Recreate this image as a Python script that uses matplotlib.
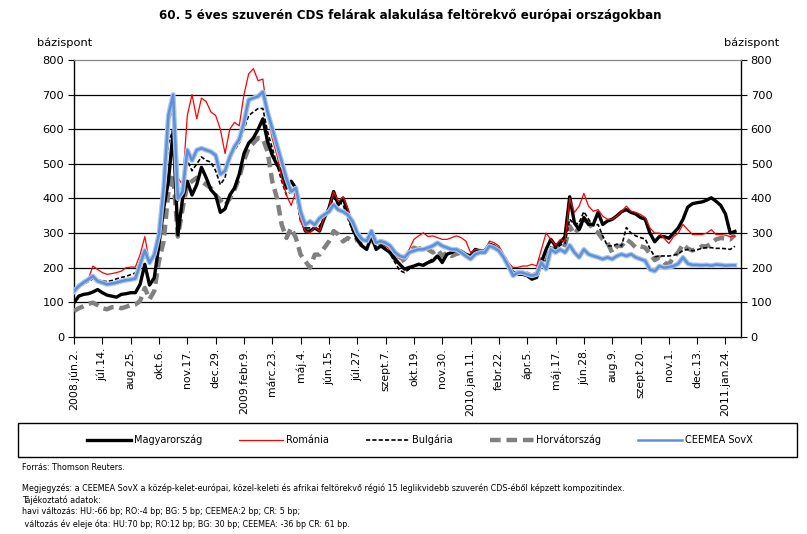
import matplotlib
matplotlib.use("Agg")
import matplotlib.pyplot as plt
from matplotlib.patches import Rectangle
import pandas as pd

plt.rcParams['font.family'] = ['DejaVu Sans']

# weekly readings, 2008.jún.2. -> 2011.febr.
start = "2008-06-02"
dates = pd.date_range(start, periods=141, freq="7D")

hu = [99, 118, 123, 125, 130, 137, 128, 121, 118, 115, 123, 125, 128, 128, 152, 210, 150, 171, 267, 372,
      450, 595, 295, 400, 450, 410, 440, 490, 460, 425, 410, 360, 370, 410, 430, 470, 530, 560, 575, 600,
      630, 565, 525, 497, 478, 430, 450, 430, 353, 306, 306, 315, 306, 343, 372, 420, 382, 401, 362, 315,
      282, 263, 253, 292, 253, 263, 253, 244, 225, 210, 196, 201, 205, 210, 207, 215, 220, 234, 215, 239,
      244, 253, 248, 239, 234, 253, 248, 248, 268, 263, 253, 230, 205, 186, 181, 181, 177, 167, 172, 215,
      253, 282, 263, 272, 290, 405, 330, 310, 345, 325, 325, 360, 325, 335, 340, 350, 362, 368, 360, 355,
      345, 340, 300, 275, 290, 290, 285, 300, 315, 340, 375, 385, 388, 390, 395, 402, 392, 380, 355, 300, 305]

ro = [132, 152, 154, 166, 205, 195, 186, 181, 183, 186, 190, 200, 202, 202, 238, 290, 214, 238, 315, 469,
      620, 660, 460, 440, 640, 700, 630, 690, 680, 650, 640, 600, 530, 600, 620, 610, 700, 760, 775, 740,
      745, 641, 573, 525, 458, 410, 380, 420, 334, 306, 301, 318, 306, 345, 372, 420, 391, 405, 372, 318,
      296, 277, 282, 301, 272, 272, 263, 253, 239, 225, 234, 253, 282, 292, 301, 290, 292, 287, 282, 282,
      287, 292, 287, 277, 244, 253, 253, 244, 277, 272, 263, 239, 215, 201, 201, 205, 205, 210, 205, 253,
      300, 282, 265, 282, 275, 400, 360, 378, 415, 378, 363, 368, 349, 340, 340, 349, 363, 378, 363, 360,
      354, 345, 315, 300, 300, 285, 270, 290, 300, 325, 310, 296, 296, 296, 300, 310, 296, 296, 294, 290, 292]

bg = [137, 145, 152, 160, 168, 165, 162, 160, 163, 168, 172, 175, 180, 185, 205, 235, 215, 235, 300, 420,
      560, 600, 390, 440, 510, 480, 500, 520, 510, 505, 480, 440, 460, 530, 540, 560, 600, 640, 650, 660,
      660, 593, 545, 497, 450, 410, 420, 410, 334, 315, 315, 315, 320, 343, 372, 400, 391, 382, 343, 306,
      285, 265, 255, 290, 255, 262, 255, 240, 215, 192, 186, 196, 205, 212, 210, 218, 225, 236, 220, 240,
      245, 250, 245, 238, 232, 250, 246, 246, 265, 260, 250, 228, 205, 185, 183, 183, 180, 172, 178, 220,
      220, 260, 255, 265, 270, 340, 325, 330, 362, 340, 321, 325, 292, 263, 263, 268, 263, 316, 300, 292,
      287, 283, 255, 232, 234, 234, 234, 236, 240, 250, 253, 249, 252, 256, 258, 258, 256, 256, 255, 253, 262]

hr = [75, 83, 89, 96, 99, 92, 83, 80, 86, 87, 83, 87, 92, 94, 104, 142, 109, 133, 219, 277,
      420, 470, 290, 370, 440, 450, 460, 450, 440, 430, 410, 395, 380, 400, 425, 460, 510, 545, 560, 575,
      573, 535, 449, 401, 324, 286, 315, 286, 238, 219, 200, 238, 238, 257, 276, 306, 296, 276, 286, 276,
      282, 263, 272, 282, 263, 272, 263, 244, 225, 215, 225, 244, 258, 253, 263, 253, 244, 253, 234, 244,
      234, 240, 244, 236, 228, 248, 245, 245, 262, 258, 250, 232, 205, 183, 186, 186, 183, 177, 183, 225,
      215, 260, 250, 270, 265, 320, 297, 316, 340, 330, 311, 301, 282, 272, 244, 263, 263, 282, 272, 258,
      262, 258, 240, 222, 230, 215, 210, 230, 245, 268, 255, 250, 255, 262, 262, 270, 282, 286, 284, 282, 295]

ceemea = [132, 147, 157, 166, 176, 161, 157, 152, 154, 157, 161, 164, 166, 169, 210, 250, 214, 238, 296, 431,
          640, 700, 400, 420, 540, 510, 540, 545, 540, 535, 525, 470, 480, 520, 550, 570, 620, 685, 690, 695,
          708, 650, 602, 554, 506, 458, 420, 430, 362, 324, 334, 324, 343, 353, 362, 382, 367, 362, 353, 334,
          301, 282, 277, 306, 272, 277, 272, 263, 244, 234, 230, 244, 249, 253, 253, 258, 263, 272, 263, 258,
          253, 253, 244, 234, 225, 239, 244, 244, 263, 258, 249, 230, 205, 177, 186, 186, 181, 177, 181, 215,
          196, 253, 244, 253, 244, 265, 244, 230, 253, 239, 234, 230, 225, 230, 225, 234, 239, 234, 239, 230,
          225, 220, 195, 190, 205, 200, 202, 205, 212, 230, 212, 208, 208, 207, 208, 206, 209, 208, 206, 207, 207]

tick_dates = pd.date_range(start, periods=24, freq="42D")
tick_labels = ["2008.jún.2.", "júl.14.", "aug.25.", "okt.6.", "nov.17.", "dec.29.",
               "2009.febr.9.", "márc.23.", "máj.4.", "jún.15.", "júl.27.", "szept.7.",
               "okt.19.", "nov.30.", "2010.jan.11.", "febr.22.", "ápr.5.", "máj.17.",
               "jún.28.", "aug.9.", "szept.20.", "nov.1.", "dec.13.", "2011.jan.24."]

W, H = 807, 534
fig = plt.figure(figsize=(W / 100, H / 100), dpi=100)
ax = fig.add_axes([74 / W, 1 - 337 / H, (741 - 74) / W, (337 - 60) / H])

l_hr, = ax.plot(dates, hr, color="#808080", lw=3.2, dashes=(2.4, 1.3), zorder=3)
l_bg, = ax.plot(dates, bg, color="black", lw=1.2, dashes=(2.5, 1.3), zorder=4)
l_hu, = ax.plot(dates, hu, color="black", lw=2.4, zorder=5)
l_ro, = ax.plot(dates, ro, color="#ff0000", lw=0.9, zorder=6)
ax.plot(dates, ceemea, color="#a9c6ee", lw=3.6, zorder=7, solid_joinstyle="round")
l_ce, = ax.plot(dates, ceemea, color="#5f8fd4", lw=1.8, zorder=8)

ax.set_ylim(0, 800)
ax.set_xlim(pd.Timestamp(start), pd.Timestamp(start) + pd.Timedelta(days=989))
ax.set_yticks(range(0, 801, 100))
ax.set_xticks(tick_dates)
ax.set_xticklabels(tick_labels, rotation=90, fontsize=7.8)
ax.tick_params(axis="y", labelsize=8.2, left=True, right=True, labelleft=True, labelright=True,
               direction="out", length=4, width=0.8, pad=3)
ax.tick_params(axis="x", direction="out", length=5, width=0.8, pad=3)
for y in range(100, 800, 100):
    ax.axhline(y, color="black", lw=0.9, zorder=1)
for s in ["left", "right", "bottom"]:
    ax.spines[s].set_color("black")
    ax.spines[s].set_linewidth(1.0)
ax.spines["top"].set_color("#888888")
ax.spines["top"].set_linewidth(0.9)

fig.text(0.508, 1 - 15 / H, "60. 5 éves szuverén CDS felárak alakulása feltörekvő európai országokban",
         ha="center", va="center", fontsize=8.6, fontweight="bold")
fig.text(37 / W, 1 - 43 / H, "bázispont", ha="left", va="center", fontsize=8.2)
fig.text(779 / W, 1 - 43 / H, "bázispont", ha="right", va="center", fontsize=8.2)

# legend box
fig.patches.append(Rectangle((18 / W, 1 - 457 / H), 779 / W, 34 / H, transform=fig.transFigure,
                             fill=False, edgecolor="black", lw=1.0))
fig.legend([l_hu, l_ro, l_bg, l_hr, l_ce],
           ["Magyarország", "Románia", "Bulgária", "Horvátország", "CEEMEA SovX"],
           loc="center", bbox_to_anchor=(420 / W, 1 - 440 / H), ncol=5, frameon=False,
           fontsize=7, handlelength=4.5, handletextpad=0.3, columnspacing=3.8)

small = dict(fontsize=5.8, ha="left", va="center")
fig.text(22 / W, 1 - 467 / H, "Forrás: Thomson Reuters.", **small)
fig.text(22 / W, 1 - 488 / H, "Megjegyzés: a CEEMEA SovX a közép-kelet-európai, közel-keleti és afrikai "
         "feltörekvő régió 15 leglikvidebb szuverén CDS-éből képzett kompozitindex.", **small)
fig.text(22 / W, 1 - 500 / H, "Tájékoztató adatok:", **small)
fig.text(22 / W, 1 - 512 / H, "havi változás: HU:-66 bp; RO:-4 bp; BG: 5 bp; CEEMEA:2 bp; CR: 5 bp;", **small)
fig.text(22 / W, 1 - 524 / H, " változás év eleje óta: HU:70 bp; RO:12 bp; BG: 30 bp; CEEMEA: -36 bp CR: 61 bp.",
         **small)

fig.savefig("out.png", dpi=100)
